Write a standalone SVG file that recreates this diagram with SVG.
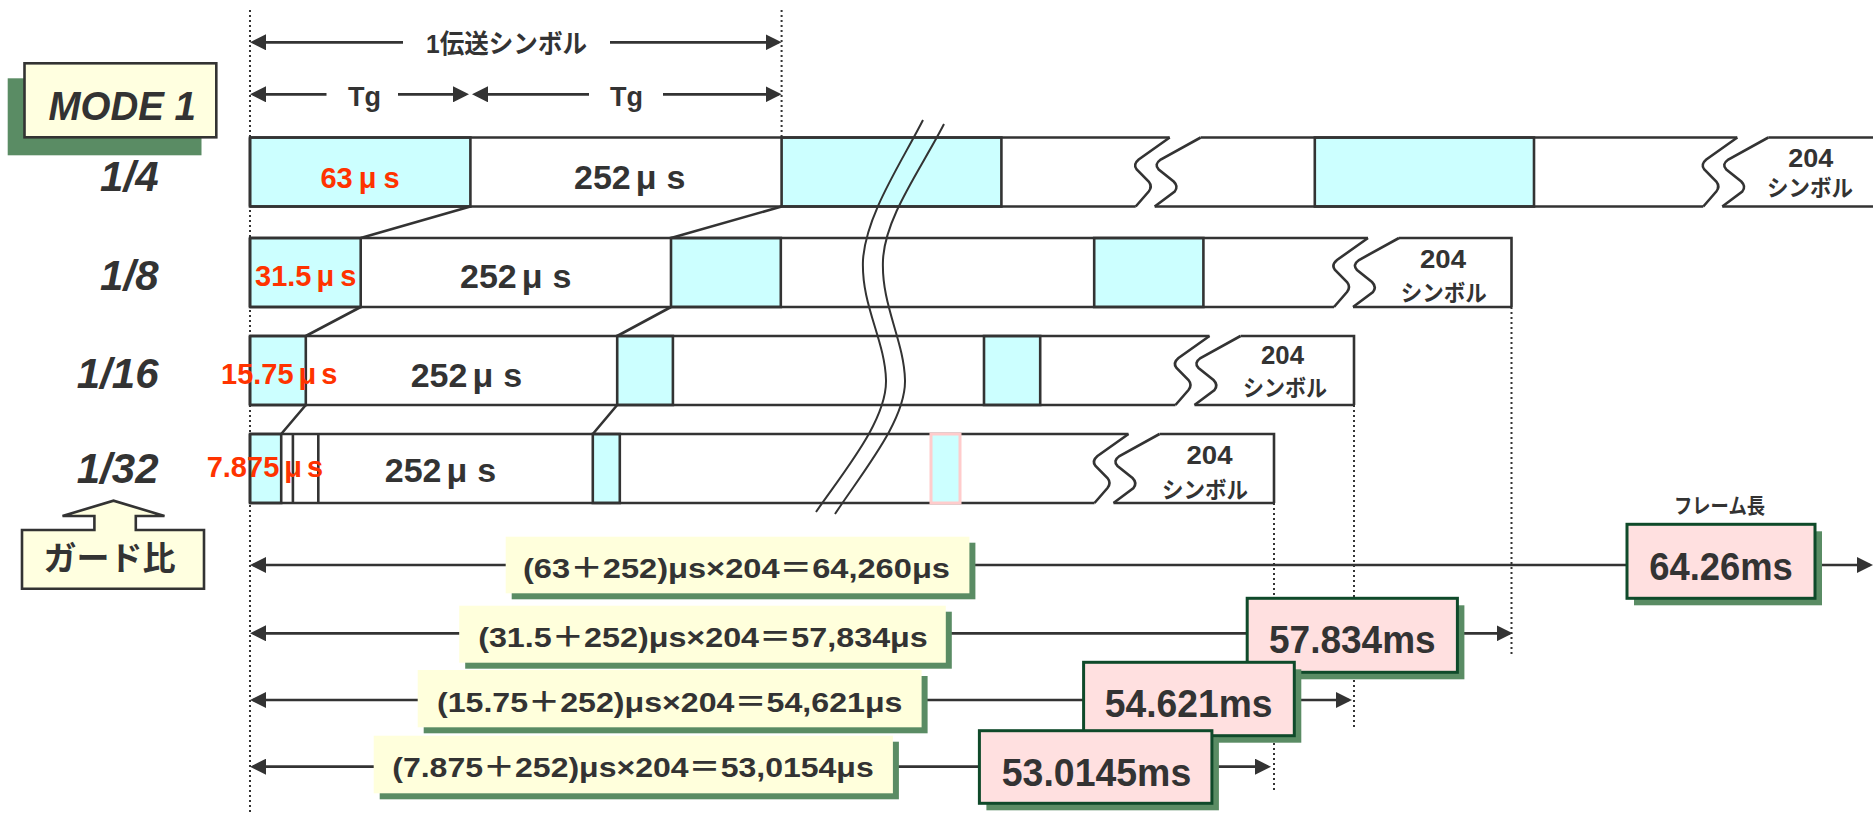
<svg xmlns="http://www.w3.org/2000/svg" width="1873" height="815" viewBox="0 0 1873 815">
<defs>
<style>
.ln{stroke:#333;stroke-width:2.6;fill:none}
.thin{stroke:#333;stroke-width:2;fill:none}
.ar{stroke:#333;stroke-width:2.7;fill:none;marker-end:url(#ah)}
.pl{stroke:#333;stroke-width:2.7;fill:none}
.dot{stroke:#333;stroke-width:2;stroke-dasharray:2 3;fill:none}
.cy{fill:#ccffff;stroke:#333;stroke-width:2.6}
.tx{font-family:"Liberation Sans","Noto Sans CJK JP",sans-serif;font-weight:bold;fill:#333}
.jp{font-family:"Noto Sans CJK JP",sans-serif;font-weight:bold;fill:#333}
.red{fill:#ff3300}
.it{font-style:italic}
.yb{fill:#ffffdc}
.sh{fill:#5a8c64}
.pk{fill:#ffe0e0;stroke:#0f4a2a;stroke-width:3}
</style>
<marker id="ah" viewBox="0 0 16 16" refX="13" refY="8" markerWidth="16" markerHeight="16" markerUnits="userSpaceOnUse" orient="auto">
<path d="M0,0 L16,8 L0,16 Z" fill="#333"/>
</marker>
<path id="brk" d="M0,0 L-31,22 Q-37,27 -33,32 L-21,44 Q-17,49 -21,54 L-34,69 M31,0 L-9,22 Q-16,27 -11,32 L4,44 Q9,49 5,54 L-15,69" fill="none" stroke="#333" stroke-width="2.6"/>
</defs>
<rect x="0" y="0" width="1873" height="815" fill="#fff"/>

<g id="guides">
<line class="dot" x1="250" y1="10" x2="250" y2="815"/>
<line class="dot" x1="781.6" y1="10" x2="781.6" y2="137.5"/>
<line class="dot" x1="1511.5" y1="307" x2="1511.5" y2="655"/>
<line class="dot" x1="1354" y1="405" x2="1354" y2="727"/>
<line class="dot" x1="1274" y1="503" x2="1274" y2="793"/>
</g>

<g id="header">
<text class="tx" x="426" y="53" font-size="26" textLength="161" lengthAdjust="spacingAndGlyphs">1伝送シンボル</text>
<text class="tx" x="364.5" y="106" font-size="27" text-anchor="middle">Tg</text>
<text class="tx" x="626.5" y="106" font-size="27" text-anchor="middle">Tg</text>
</g>

<g id="mode1">
<rect class="sh" x="7.7" y="78.3" width="193.8" height="77"/>
<rect x="24.5" y="63.3" width="191.8" height="74" fill="#ffffe0" stroke="#333" stroke-width="2.6"/>
<text class="tx it" x="48.5" y="120" font-size="40" textLength="147.5" lengthAdjust="spacingAndGlyphs">MODE 1</text>
</g>

<g id="ratio-labels">
<text class="tx it" x="158.5" y="191" font-size="42" text-anchor="end">1/4</text>
<text class="tx it" x="158.5" y="290" font-size="42" text-anchor="end">1/8</text>
<text class="tx it" x="158.5" y="388" font-size="42" text-anchor="end">1/16</text>
<text class="tx it" x="158.5" y="483" font-size="42" text-anchor="end">1/32</text>
</g>

<g id="guard-ratio">
<path d="M22,530 H94.4 V516 H62.5 L113.5,500.7 L164.5,516 H135.8 V530 H204 V588.7 H22 Z" fill="#ffffe0" stroke="#333" stroke-width="2.6"/>
<text class="jp" x="109.4" y="569.5" font-size="33" text-anchor="middle" textLength="132" lengthAdjust="spacingAndGlyphs">ガード比</text>
</g>

<g id="row-1-4">
<rect class="cy" x="250" y="137.5" width="220.4" height="69"/>
<rect class="cy" x="781.6" y="137.5" width="219.8" height="69"/>
<rect class="cy" x="1314.8" y="137.5" width="219.2" height="69"/>
<path class="ln" d="M250,137.5 V206.5 M250,137.5 H1169.7 M1200.7,137.5 H1737.3 M1768.3,137.5 H1873 M250,206.5 H1135.7 M1154.7,206.5 H1703.3 M1722.3,206.5 H1873"/>
<use href="#brk" x="1169.7" y="137.5"/>
<use href="#brk" x="1737.3" y="137.5"/>
<text class="tx red" x="320.4" y="188" font-size="29">63<tspan dx="6">μ</tspan><tspan dx="7">s</tspan></text>
<text class="tx" x="574" y="189" font-size="34">252<tspan dx="5">μ</tspan><tspan dx="10">s</tspan></text>
<text class="tx" x="1810.8" y="167.3" font-size="25" text-anchor="middle" textLength="45" lengthAdjust="spacingAndGlyphs">204</text>
<text class="jp" x="1810" y="196" font-size="23" text-anchor="middle" textLength="86" lengthAdjust="spacingAndGlyphs">シンボル</text>
</g>

<g id="row-1-8">
<rect class="cy" x="250" y="238" width="110.7" height="69"/>
<rect class="cy" x="671" y="238" width="109.8" height="69"/>
<rect class="cy" x="1094.2" y="238" width="109.2" height="69"/>
<path class="ln" d="M250,238 V307 M250,238 H1368 M1399,238 H1511.5 V307 M250,307 H1334 M1353,307 H1511.5"/>
<use href="#brk" x="1368" y="238"/>
<text class="tx red" x="255" y="286" font-size="29">31.5<tspan dx="5">μ</tspan><tspan dx="6">s</tspan></text>
<text class="tx" x="460" y="288" font-size="34">252<tspan dx="5">μ</tspan><tspan dx="10">s</tspan></text>
<text class="tx" x="1443" y="268.3" font-size="25" text-anchor="middle" textLength="46" lengthAdjust="spacingAndGlyphs">204</text>
<text class="jp" x="1443.8" y="301" font-size="23" text-anchor="middle" textLength="86" lengthAdjust="spacingAndGlyphs">シンボル</text>
</g>

<g id="row-1-16">
<rect class="cy" x="250" y="336" width="55.8" height="69"/>
<rect class="cy" x="617.2" y="336" width="55.7" height="69"/>
<rect class="cy" x="984" y="336" width="56.2" height="69"/>
<path class="ln" d="M250,336 V405 M250,336 H1209.5 M1240.5,336 H1354 V405 M250,405 H1175.5 M1194.5,405 H1354"/>
<use href="#brk" x="1209.5" y="336"/>
<text class="tx red" x="221" y="384" font-size="29">15.75<tspan dx="5">μ</tspan><tspan dx="5">s</tspan></text>
<text class="tx" x="410.7" y="386.7" font-size="34">252<tspan dx="5">μ</tspan><tspan dx="10">s</tspan></text>
<text class="tx" x="1282.5" y="364" font-size="25" text-anchor="middle" textLength="43" lengthAdjust="spacingAndGlyphs">204</text>
<text class="jp" x="1285" y="396" font-size="23" text-anchor="middle" textLength="84" lengthAdjust="spacingAndGlyphs">シンボル</text>
</g>

<g id="row-1-32">
<rect class="cy" x="250" y="434" width="31.2" height="69"/>
<rect class="cy" x="592.8" y="434" width="27" height="69"/>
<path class="ln" d="M250,434 V503 M250,434 H1128.5 M1159.5,434 H1274 V503 M250,503 H1094.5 M1113.5,503 H1274 M292.9,434 V503 M318.3,434 V503"/>
<use href="#brk" x="1128.5" y="434"/>
<rect x="931" y="434" width="29" height="69" fill="#ccffff" stroke="#ffcccc" stroke-width="3"/>
<text class="tx red" x="206.7" y="477.3" font-size="29">7.875<tspan dx="5">μ</tspan><tspan dx="5">s</tspan></text>
<text class="tx" x="384.8" y="481.7" font-size="34">252<tspan dx="5">μ</tspan><tspan dx="10">s</tspan></text>
<text class="tx" x="1209.5" y="464" font-size="25" text-anchor="middle" textLength="46" lengthAdjust="spacingAndGlyphs">204</text>
<text class="jp" x="1205" y="497.5" font-size="23" text-anchor="middle" textLength="86" lengthAdjust="spacingAndGlyphs">シンボル</text>
</g>

<g id="connectors">
<line class="ar" x1="403" y1="42.3" x2="253" y2="42.3"/>
<line class="ar" x1="610" y1="42.3" x2="778.6" y2="42.3"/>
<line class="ar" x1="326.5" y1="94.3" x2="253" y2="94.3"/>
<line class="ar" x1="398" y1="94.3" x2="466" y2="94.3"/>
<line class="ar" x1="589" y1="94.3" x2="475" y2="94.3"/>
<line class="ar" x1="663" y1="94.3" x2="778.6" y2="94.3"/>
<path class="ln" d="M470.4,206.5 L360.7,238 M781.6,206.5 L671,238 M360.7,307 L305.8,336 M671,307 L617.2,336 M305.8,405 L281.2,434 M617.2,405 L592.8,434"/>
<path class="thin" d="M923,120 C900,165 866,215 863,260 C861,305 885,340 886,380 C887,420 845,470 816,512"/>
<path class="thin" d="M944,124 C921,169 885,217 883,260 C881,305 904,340 905,380 C906,420 864,470 835,514"/>
<line class="ar" x1="506" y1="565" x2="253" y2="565"/>
<line class="pl" x1="970" y1="565" x2="1628" y2="565"/>
<line class="ar" x1="1820" y1="565" x2="1870" y2="565"/>
<line class="ar" x1="460" y1="633.3" x2="253" y2="633.3"/>
<line class="pl" x1="946" y1="633.3" x2="1248" y2="633.3"/>
<line class="ar" x1="1460" y1="633.3" x2="1509.7" y2="633.3"/>
<line class="ar" x1="418" y1="700" x2="253" y2="700"/>
<line class="pl" x1="921" y1="700" x2="1084" y2="700"/>
<line class="ar" x1="1296" y1="700" x2="1349" y2="700"/>
<line class="ar" x1="374" y1="766.7" x2="253" y2="766.7"/>
<line class="pl" x1="893" y1="766.7" x2="980" y2="766.7"/>
<line class="ar" x1="1214" y1="766.7" x2="1268" y2="766.7"/>
</g>

<g id="formula-1-4">
<rect class="sh" x="511.7" y="542.7" width="463.7" height="56.6"/>
<rect class="yb" x="505.7" y="536.7" width="463.7" height="56.6"/>
<text class="tx" x="736.5" y="578.3" font-size="28" text-anchor="middle" textLength="427" lengthAdjust="spacingAndGlyphs">(63＋252)μs×204＝64,260μs</text>
</g>
<g id="formula-1-8">
<rect class="sh" x="465.2" y="611.7" width="486.6" height="57"/>
<rect class="yb" x="459.2" y="605.7" width="486.6" height="57"/>
<text class="tx" x="703" y="646.7" font-size="28" text-anchor="middle" textLength="449.7" lengthAdjust="spacingAndGlyphs">(31.5＋252)μs×204＝57,834μs</text>
</g>
<g id="formula-1-16">
<rect class="sh" x="423.7" y="676" width="503.9" height="57.3"/>
<rect class="yb" x="417.7" y="670" width="503.9" height="57.3"/>
<text class="tx" x="669.7" y="711.7" font-size="28" text-anchor="middle" textLength="465.5" lengthAdjust="spacingAndGlyphs">(15.75＋252)μs×204＝54,621μs</text>
</g>
<g id="formula-1-32">
<rect class="sh" x="379.7" y="741.7" width="519.2" height="57.6"/>
<rect class="yb" x="373.7" y="735.7" width="519.2" height="57.6"/>
<text class="tx" x="633" y="777" font-size="28" text-anchor="middle" textLength="481.5" lengthAdjust="spacingAndGlyphs">(7.875＋252)μs×204＝53,0154μs</text>
</g>

<g id="frame-64-26">
<text class="jp" x="1719.5" y="513" font-size="21" text-anchor="middle" textLength="91" lengthAdjust="spacingAndGlyphs">フレーム長</text>
<rect class="sh" x="1634" y="531.3" width="188" height="74"/>
<rect class="pk" x="1627" y="524.3" width="188" height="74"/>
<text class="tx" x="1721" y="580" font-size="38" text-anchor="middle" textLength="143.6" lengthAdjust="spacingAndGlyphs">64.26ms</text>
</g>
<g id="frame-57-834">
<rect class="sh" x="1254.2" y="605.3" width="210.2" height="74"/>
<rect class="pk" x="1247.2" y="598.3" width="210.2" height="74"/>
<text class="tx" x="1352.3" y="653.3" font-size="38" text-anchor="middle" textLength="166.6" lengthAdjust="spacingAndGlyphs">57.834ms</text>
</g>
<g id="frame-54-621">
<rect class="sh" x="1090.6" y="669.3" width="210.7" height="73.4"/>
<rect class="pk" x="1083.6" y="662.3" width="210.7" height="73.4"/>
<text class="tx" x="1188.7" y="717.3" font-size="38" text-anchor="middle" textLength="167.7" lengthAdjust="spacingAndGlyphs">54.621ms</text>
</g>
<g id="frame-53-0145">
<rect class="sh" x="986.4" y="737.7" width="232.5" height="72.6"/>
<rect class="pk" x="979.4" y="730.7" width="232.5" height="72.6"/>
<text class="tx" x="1096.5" y="786" font-size="38" text-anchor="middle" textLength="189.5" lengthAdjust="spacingAndGlyphs">53.0145ms</text>
</g>
</svg>
